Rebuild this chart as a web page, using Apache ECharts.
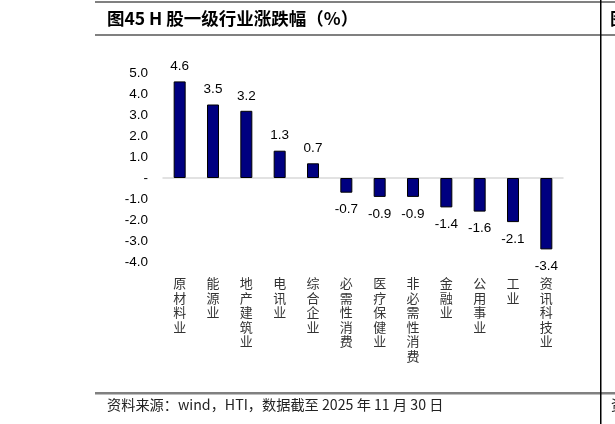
<!DOCTYPE html>
<html><head><meta charset="utf-8">
<script src="https://cdn.jsdelivr.net/npm/echarts@6/dist/echarts.min.js"></script>
<style>html,body{margin:0;padding:0;background:#fff}#c{width:615px;height:424px}</style>
</head><body><div id="c"></div>
<script>
const categories = ['原材料业','能源业','地产建筑业','电讯业','综合企业','必需性消费','医疗保健业','非必需性消费','金融业','公用事业','工业','资讯科技业'];
const values = [4.6, 3.5, 3.2, 1.3, 0.7, -0.7, -0.9, -0.9, -1.4, -1.6, -2.1, -3.4];
const yMin = -4, yMax = 5, yStep = 1;
const titleText = '图45 H 股一级行业涨跌幅（%）';
const sourceText = '资料来源：wind，HTI，数据截至 2025 年 11 月 30 日';

const chart = echarts.init(document.getElementById('c'), null, {renderer:'canvas'});
const cjk = '"Noto Sans CJK SC", sans-serif';
const num = '"Liberation Sans", Arial, sans-serif';
chart.setOption({
  animation: false,
  backgroundColor: '#fff',
  grid: {left: 163, right: 52, top: 73, bottom: 162, containLabel: false},
  xAxis: [{
    type: 'category', data: categories, position: 'bottom',
    axisLine: {show: false, onZero: false}, axisTick: {show: false},
    axisLabel: {interval: 0, margin: 14, color: '#333', fontFamily: cjk, fontSize: 13, lineHeight: 14.5, verticalAlign: 'top',
      formatter: v => v.split('').join('\n')}
  },{
    type: 'category', data: categories, position: 'bottom',
    axisLine: {show: true, onZero: true, lineStyle: {color: '#d9d9d9', width: 1.5}},
    axisTick: {show: false}, axisLabel: {show: false}
  }],
  yAxis: {
    type: 'value', min: yMin, max: yMax, interval: yStep,
    axisLine: {show: false}, axisTick: {show: false}, splitLine: {show: false},
    axisLabel: {margin: 15, color: '#000', fontFamily: num, fontSize: 13.5,
      formatter: v => v === 0 ? '-' : v.toFixed(1)}
  },
  series: [{
    type: 'bar', xAxisIndex: 0, data: values.map(v => ({
      value: v,
      label: {position: v >= 0 ? 'top' : 'bottom', distance: v >= 0 ? 8 : 10}
    })),
    barWidth: 12,
    itemStyle: {color: '#000080', borderColor: '#000', borderWidth: 1},
    label: {show: true, color: '#000', fontFamily: num, fontSize: 13.5, formatter: p => p.value.toFixed(1)}
  }],
  graphic: [
    {type: 'rect', shape: {x: 95, y: 1, width: 520, height: 2}, style: {fill: '#808080'}, silent: true},
    {type: 'rect', shape: {x: 95, y: 34, width: 520, height: 2}, style: {fill: '#808080'}, silent: true},
    {type: 'rect', shape: {x: 95, y: 392, width: 520, height: 2.5}, style: {fill: '#808080'}, silent: true},
    {type: 'rect', shape: {x: 600, y: 0, width: 1.5, height: 424}, style: {fill: '#000'}, silent: true},
    {type: 'text', x: 107, y: 18, style: {text: titleText, fontFamily: cjk, fontWeight: 'bold', fontSize: 17.5, fill: '#000', textVerticalAlign: 'middle'}},
    {type: 'text', x: 610, y: 18, style: {text: '图', fontFamily: cjk, fontWeight: 'bold', fontSize: 17.5, fill: '#000', textVerticalAlign: 'middle'}},
    {type: 'text', x: 107, y: 405, style: {text: sourceText, fontFamily: cjk, fontSize: 14.2, fill: '#222', textVerticalAlign: 'middle'}},
    {type: 'text', x: 611, y: 405, style: {text: '资', fontFamily: cjk, fontSize: 14.2, fill: '#222', textVerticalAlign: 'middle'}}
  ]
});
</script></body></html>
